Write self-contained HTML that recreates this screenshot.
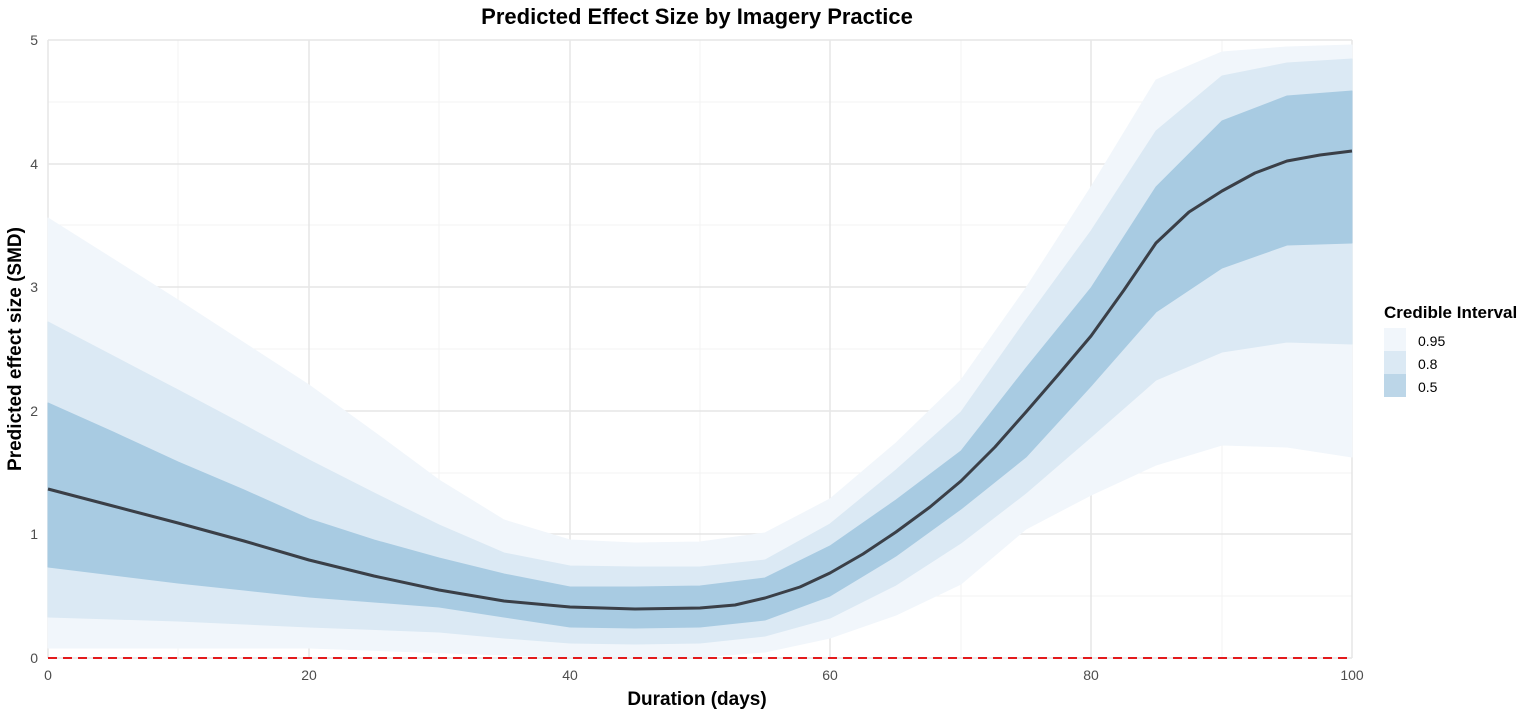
<!DOCTYPE html>
<html><head><meta charset="utf-8"><style>
body{margin:0;background:#fff;}
svg{display:block;font-family:"Liberation Sans",Arial,sans-serif;}
</style></head><body>
<svg width="1535" height="714" viewBox="0 0 1535 714">
<rect width="1535" height="714" fill="#fff"/>
<g stroke="#f3f3f3" stroke-width="1">
<line x1="178" y1="40" x2="178" y2="658"/><line x1="439" y1="40" x2="439" y2="658"/><line x1="700" y1="40" x2="700" y2="658"/><line x1="961" y1="40" x2="961" y2="658"/><line x1="1222" y1="40" x2="1222" y2="658"/>
<line x1="48" y1="596" x2="1352" y2="596"/><line x1="48" y1="473" x2="1352" y2="473"/><line x1="48" y1="349" x2="1352" y2="349"/><line x1="48" y1="225" x2="1352" y2="225"/><line x1="48" y1="102" x2="1352" y2="102"/>
</g>
<g stroke="#e6e6e6" stroke-width="1.5">
<line x1="48" y1="40" x2="48" y2="658"/><line x1="309" y1="40" x2="309" y2="658"/><line x1="570" y1="40" x2="570" y2="658"/><line x1="830" y1="40" x2="830" y2="658"/><line x1="1091" y1="40" x2="1091" y2="658"/><line x1="1352" y1="40" x2="1352" y2="658"/>
<line x1="48" y1="658" x2="1352" y2="658"/><line x1="48" y1="534" x2="1352" y2="534"/><line x1="48" y1="411" x2="1352" y2="411"/><line x1="48" y1="287" x2="1352" y2="287"/><line x1="48" y1="164" x2="1352" y2="164"/><line x1="48" y1="40" x2="1352" y2="40"/>
</g>
<polygon fill="#f1f6fb" stroke="#f1f6fb" stroke-linejoin="round" points="48,218 178,300 309,385 374,432 439,480 504,520 570,540 635,543 700,542 765,533 830,499 896,443 961,380 1026,288 1091,187 1156,80 1222,52 1287,47 1352,45 1352,457 1287,447 1222,445 1156,465 1091,495 1026,529 961,584 896,615 830,638 765,652 700,657 570,657 504,655 309,648 48,648"/>
<polygon fill="#dbe9f4" stroke="#dbe9f4" stroke-linejoin="round" points="48,322 113,356 178,390 244,425 309,460 374,493 439,525 504,553 570,566 635,567 700,567 765,560 830,524 896,470 961,412 1026,320 1091,231 1156,131 1222,76 1287,63 1352,59 1352,344 1287,342 1222,352 1156,380 1091,437 1026,493 961,543 896,585 830,618 765,636 700,643 635,644 570,643 504,638 439,632 309,627 178,621 48,617"/>
<polygon fill="#a8cbe2" stroke="#a8cbe2" stroke-linejoin="round" points="48,403 113,432 178,462 244,490 309,519 374,540 439,558 504,574 570,587 635,587 700,586 765,578 830,546 896,500 961,451 1026,368 1091,288 1156,187 1222,121 1287,96 1352,91 1352,243 1287,245 1222,268 1156,312 1091,386 1026,457 961,509 896,556 830,596 765,620 700,627 635,628 570,627 504,617 439,607 374,602 309,597 244,590 178,583 113,575 48,567"/>
<polyline fill="none" stroke="#3a3f47" stroke-width="3" stroke-linejoin="round" points="48,489 113,506 178,523 244,541 309,560 374,576 439,590 504,601 570,607 635,609 700,608 735,605 765,598 800,587 830,573 863,554 896,532 930,507 961,481 995,447 1026,412 1058,375 1091,336 1124,290 1156,243 1189,212 1222,191 1255,173 1287,161 1320,155 1352,151"/>
<line x1="48" y1="658" x2="1352" y2="658" stroke="#e31a1c" stroke-width="2" stroke-dasharray="9,6"/>
<g font-size="14" fill="#4d4d4d">
<g text-anchor="end"><text x="38" y="663">0</text><text x="38" y="539">1</text><text x="38" y="416">2</text><text x="38" y="292">3</text><text x="38" y="169">4</text><text x="38" y="45">5</text></g>
<g text-anchor="middle"><text x="48" y="680">0</text><text x="309" y="680">20</text><text x="570" y="680">40</text><text x="830" y="680">60</text><text x="1091" y="680">80</text><text x="1352" y="680">100</text></g>
</g>
<text x="697" y="24" text-anchor="middle" font-size="22" font-weight="bold" fill="#000">Predicted Effect Size by Imagery Practice</text>
<text x="697" y="705" text-anchor="middle" font-size="19" font-weight="bold" fill="#000">Duration (days)</text>
<text transform="translate(21,349) rotate(-90)" text-anchor="middle" font-size="19" font-weight="bold" fill="#000">Predicted effect size (SMD)</text>
<text x="1384" y="318" font-size="17" font-weight="bold" fill="#000">Credible Interval</text>
<rect x="1384" y="328" width="22" height="23" fill="#f1f6fb"/>
<rect x="1384" y="351" width="22" height="23" fill="#dbe9f4"/>
<rect x="1384" y="374" width="22" height="23" fill="#bcd6e8"/>
<g font-size="14" fill="#000"><text x="1418" y="346">0.95</text><text x="1418" y="369">0.8</text><text x="1418" y="392">0.5</text></g>
</svg>
</body></html>
